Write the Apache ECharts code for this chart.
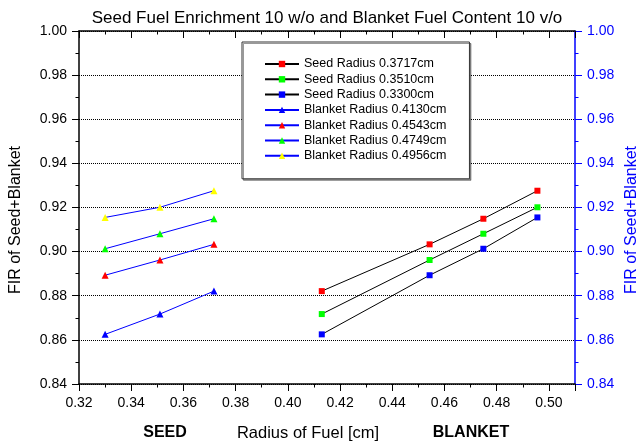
<!DOCTYPE html>
<html>
<head>
<meta charset="utf-8">
<script src="https://cdn.jsdelivr.net/npm/echarts@6/dist/echarts.min.js"></script>
<style>
  html, body { margin: 0; padding: 0; background: #fff; }
  #chart { width: 637px; height: 442px; }
</style>
</head>
<body>
<div id="chart"></div>
<script>
// Fuel radii [cm]
const seedRadii = [0.3300, 0.3510, 0.3717];
const blanketRadii = [0.4130, 0.4543, 0.4749, 0.4956];

// FIR of seed+blanket for each seed radius, one value per blanket radius
const firSeed3300 = [0.8625, 0.8893, 0.9013, 0.9155];
const firSeed3510 = [0.8717, 0.8962, 0.9081, 0.9201];
const firSeed3717 = [0.8821, 0.9033, 0.9149, 0.9276];

const seedNames = ['Seed Radius 0.3717cm', 'Seed Radius 0.3510cm', 'Seed Radius 0.3300cm'];
const blanketNames = ['Blanket Radius 0.4130cm', 'Blanket Radius 0.4543cm',
                      'Blanket Radius 0.4749cm', 'Blanket Radius 0.4956cm'];

const FONT = 'Liberation Sans, Arial, sans-serif';

// Seed curves (squares) run across the blanket radii
const seedRows = [firSeed3717, firSeed3510, firSeed3300];
const seedColors = ['#ff0000', '#00ff00', '#0000ff'];
// Blanket curves (triangles) run across the seed radii, rows ordered by seed radius
const rowsBySeed = [firSeed3300, firSeed3510, firSeed3717];
const blanketColors = ['#0000ff', '#ff0000', '#00ff00', '#ffff00'];

const series = [];
seedRows.forEach((row, i) => {
  series.push({
    name: seedNames[i],
    type: 'line',
    xAxisIndex: 0, yAxisIndex: 0,
    data: blanketRadii.map((r, j) => [r, row[j]]),
    symbol: 'rect',
    symbolSize: 6,
    itemStyle: { color: seedColors[i] },
    lineStyle: { color: '#000', width: 1 },
    emphasis: { disabled: true },
    animation: false
  });
});
blanketRadii.forEach((r, j) => {
  series.push({
    name: blanketNames[j],
    type: 'line',
    xAxisIndex: 0, yAxisIndex: 0,
    data: seedRadii.map((s, i) => [s, rowsBySeed[i][j]]),
    symbol: 'triangle',
    symbolSize: 7,
    itemStyle: { color: blanketColors[j] },
    lineStyle: { color: '#0000ff', width: 1 },
    emphasis: { disabled: true },
    animation: false
  });
});

const fmt2 = v => v.toFixed(2);

const xCommon = {
  type: 'value', min: 0.32, max: 0.51, interval: 0.02,
  axisLine: { show: true, onZero: false, lineStyle: { color: '#000', width: 1.5 } },
  axisTick: { show: true, length: 7, lineStyle: { color: '#000', width: 1 } },
  minorTick: { show: true, splitNumber: 2, length: 3.5, lineStyle: { color: '#000', width: 1 } },
  splitLine: { show: false }
};

const yCommon = {
  type: 'value', min: 0.84, max: 1.00, interval: 0.02,
  axisTick: { show: true, length: 7 },
  minorTick: { show: true, splitNumber: 2, length: 3.5 }
};

const option = {
  animation: false,
  backgroundColor: '#fff',
  grid: { left: 79, top: 31, right: 62, bottom: 58, containLabel: false },
  legend: {
    orient: 'vertical',
    left: 242, top: 42,
    padding: [15, 23, 16, 22],
    itemWidth: 34, itemHeight: 8, itemGap: 1.3,
    borderColor: '#333', borderWidth: 1,
    backgroundColor: '#fff',
    shadowColor: 'rgba(0,0,0,0.4)', shadowOffsetX: 1.5, shadowOffsetY: 1.5, shadowBlur: 0,
    textStyle: { fontFamily: FONT, fontSize: 12.5, color: '#000', lineHeight: 14 },
    data: seedNames.concat(blanketNames),
    selectedMode: false
  },
  xAxis: [
    Object.assign({}, xCommon, {
      position: 'bottom',
      axisTick: Object.assign({}, xCommon.axisTick, { inside: false }),
      axisLabel: { show: true, margin: 12, formatter: fmt2, showMaxLabel: false,
                   fontFamily: FONT, fontSize: 14, color: '#000' }
    }),
    Object.assign({}, xCommon, {
      position: 'top',
      axisTick: Object.assign({}, xCommon.axisTick, { inside: true }),
      axisLabel: { show: false }
    })
  ],
  yAxis: [
    Object.assign({}, yCommon, {
      position: 'left',
      axisLine: { show: true, onZero: false, lineStyle: { color: '#000', width: 1.5 } },
      axisTick: { show: true, length: 7, lineStyle: { color: '#000', width: 1 } },
      minorTick: { show: true, splitNumber: 2, length: 3.5, lineStyle: { color: '#000', width: 1 } },
      axisLabel: { margin: 12, formatter: fmt2, fontFamily: FONT, fontSize: 14, color: '#000' },
      splitLine: { show: true, lineStyle: { color: '#000', width: 1, type: [1, 1] } }
    }),
    Object.assign({}, yCommon, {
      position: 'right',
      axisLine: { show: true, onZero: false, lineStyle: { color: '#0000ff', width: 1.5 } },
      axisTick: { show: true, length: 7, lineStyle: { color: '#0000ff', width: 1 } },
      minorTick: { show: true, splitNumber: 2, length: 3.5, lineStyle: { color: '#0000ff', width: 1 } },
      axisLabel: { margin: 12, formatter: fmt2, fontFamily: FONT, fontSize: 14, color: '#0000ff' },
      splitLine: { show: false }
    })
  ],
  graphic: [
    { type: 'text', x: 327, y: 18, z: 100,
      style: { text: 'Seed Fuel Enrichment 10 w/o and Blanket Fuel Content 10 v/o',
               font: '17px ' + FONT, fill: '#000', align: 'center', verticalAlign: 'middle' } },
    { type: 'text', x: 165, y: 433, z: 100,
      style: { text: 'SEED', font: 'bold 16px ' + FONT, fill: '#000', align: 'center', verticalAlign: 'middle' } },
    { type: 'text', x: 308, y: 433, z: 100,
      style: { text: 'Radius of Fuel [cm]', font: '16.5px ' + FONT, fill: '#000', align: 'center', verticalAlign: 'middle' } },
    { type: 'text', x: 471, y: 433, z: 100,
      style: { text: 'BLANKET', font: 'bold 16px ' + FONT, fill: '#000', align: 'center', verticalAlign: 'middle' } },
    { type: 'text', x: 15.5, y: 220, rotation: Math.PI / 2, z: 100,
      style: { text: 'FIR of Seed+Blanket', font: '16px ' + FONT, fill: '#000', align: 'center', verticalAlign: 'middle' } },
    { type: 'text', x: 631.5, y: 220, rotation: Math.PI / 2, z: 100,
      style: { text: 'FIR of Seed+Blanket', font: '16px ' + FONT, fill: '#0000ff', align: 'center', verticalAlign: 'middle' } }
  ],
  series: series
};

const chart = echarts.init(document.getElementById('chart'), null, { renderer: 'canvas' });
chart.setOption(option);
</script>
</body>
</html>
